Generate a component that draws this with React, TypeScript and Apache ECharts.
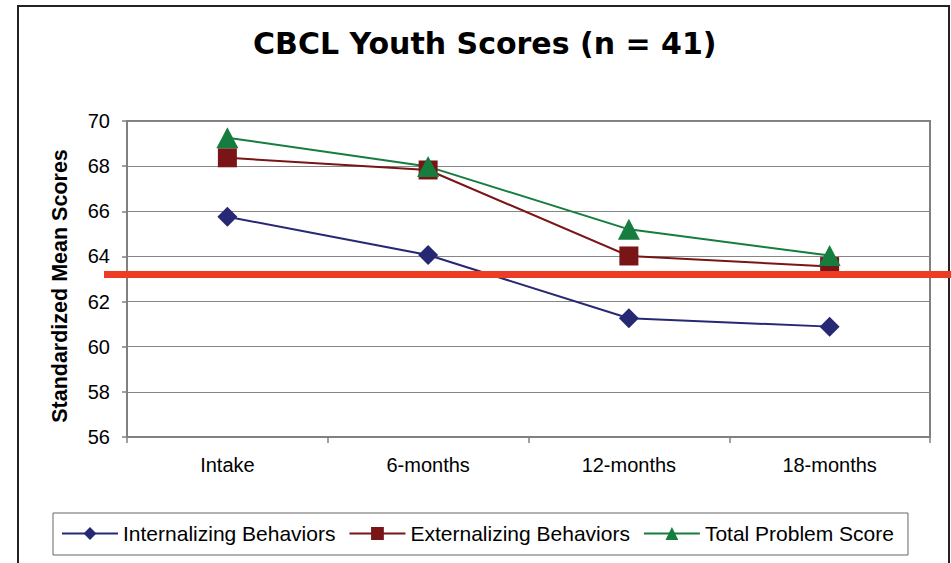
import React, { useEffect, useRef } from "react";
import * as echarts from "echarts";

const categories = ["Intake", "6-months", "12-months", "18-months"];
const internalizing = [65.76, 64.06, 61.26, 60.89];
const externalizing = [68.37, 67.83, 64.02, 63.55];
const totalProblem = [69.26, 67.98, 65.2, 64.04];
const seriesNames = ["Internalizing Behaviors", "Externalizing Behaviors", "Total Problem Score"];
const yMin = 56;
const yMax = 70;
const yInterval = 2;
const threshold = 63.2;

const ARIAL = '"Liberation Sans", Arial, sans-serif';

export default function App() {
  const ref = useRef<HTMLDivElement>(null);
  useEffect(() => {
    if (!ref.current) return;
    const chart = echarts.init(ref.current, undefined, { renderer: "svg" });
    chart.setOption({
      animation: false,
      backgroundColor: "#ffffff",
      title: {
        text: "CBCL Youth Scores (n = 41)",
        left: 248,
        top: 23,
        textStyle: { fontFamily: '"DejaVu Sans", Verdana, sans-serif', fontWeight: "bold", fontSize: 30, color: "#000" },
      },
      grid: { left: 127, right: 21, top: 121, bottom: 126, show: true, borderColor: "#808080", borderWidth: 2, backgroundColor: "transparent" },
      legend: {
        data: seriesNames,
        left: 53,
        top: 513,
        orient: "horizontal",
        itemWidth: 56,
        itemHeight: 16,
        itemGap: 13,
        padding: [10, 14, 11, 8],
        borderColor: "#666",
        borderWidth: 1,
        textStyle: { fontFamily: ARIAL, fontSize: 21, color: "#000" },
      },
      xAxis: {
        type: "category",
        data: categories,
        boundaryGap: true,
        axisLine: { lineStyle: { color: "#808080", width: 2 } },
        axisTick: { show: true, length: 6, lineStyle: { color: "#808080", width: 1.5 } },
        axisLabel: { fontFamily: ARIAL, fontSize: 20, color: "#000", margin: 18 },
        splitLine: { show: false },
      },
      yAxis: {
        type: "value",
        min: yMin,
        max: yMax,
        interval: yInterval,
        name: "Standardized Mean Scores",
        nameLocation: "middle",
        nameRotate: 90,
        nameGap: 56,
        nameTextStyle: { fontFamily: ARIAL, fontWeight: "bold", fontSize: 21.5, color: "#000", padding: [0, 14, 0, 0] },
        axisLine: { show: true, lineStyle: { color: "#808080", width: 2 } },
        axisTick: { show: true, length: 5, lineStyle: { color: "#808080", width: 1.5 } },
        axisLabel: { fontFamily: ARIAL, fontSize: 20, color: "#000", margin: 17 },
        splitLine: { show: true, lineStyle: { color: "#858585", width: 1 } },
      },
      series: [
        {
          name: seriesNames[0],
          type: "line",
          data: internalizing,
          symbol: "diamond",
          symbolSize: 20,
          lineStyle: { color: "#262874", width: 2 },
          itemStyle: { color: "#262874" },
        },
        {
          name: seriesNames[1],
          type: "line",
          data: externalizing,
          symbol: "rect",
          symbolSize: 19,
          lineStyle: { color: "#7A1517", width: 2 },
          itemStyle: { color: "#7A1517" },
        },
        {
          name: seriesNames[2],
          type: "line",
          data: totalProblem,
          symbol: "triangle",
          symbolSize: [22, 21],
          lineStyle: { color: "#157D3E", width: 2 },
          itemStyle: { color: "#157D3E" },
        },
      ],
    });
    const y = chart.convertToPixel({ yAxisIndex: 0 }, threshold) as number;
    chart.setOption({
      graphic: [
        {
          type: "rect",
          z: 100,
          shape: { x: 18, y: 6, width: 931, height: 620 },
          style: { fill: "none", stroke: "#222", lineWidth: 2 },
          silent: true,
        },
        {
          type: "line",
          z: 100,
          shape: { x1: 104, y1: y, x2: 951, y2: y },
          style: { stroke: "#EE3B23", lineWidth: 7 },
          silent: true,
        },
      ],
    });
    return () => chart.dispose();
  }, []);
  return <div ref={ref} style={{ position: "fixed", left: 0, top: 0, width: 951, height: 563 }} />;
}
